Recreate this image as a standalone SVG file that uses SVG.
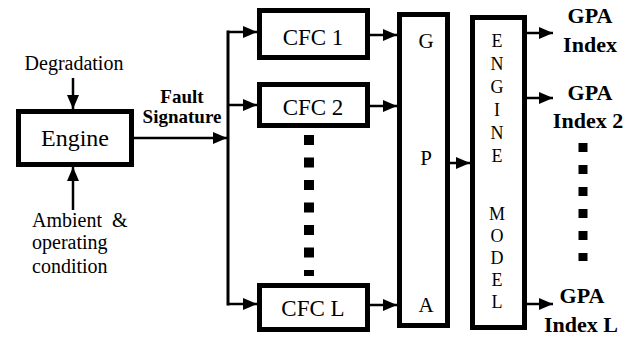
<svg xmlns="http://www.w3.org/2000/svg" width="636" height="339" viewBox="0 0 636 339">
<defs>
<marker id="ah" markerUnits="userSpaceOnUse" markerWidth="14" markerHeight="12" refX="14" refY="6" orient="auto">
<path d="M0,0 L14,6 L0,12 z" fill="#000"/>
</marker>
<style>
.box{fill:#fff;stroke:#000;stroke-width:5}
text{font-family:"Liberation Serif","Times New Roman",serif;fill:#000}
.b{font-weight:bold}
.c{stroke:#000;stroke-width:2.5;fill:none}
.a{marker-end:url(#ah)}
.dots{stroke:#000;fill:none}
</style>
</defs>
<rect width="636" height="339" fill="#fff"/>

<g id="connectors">
<line class="c a" x1="73" y1="78" x2="73" y2="109"/>
<line class="c a" x1="73" y1="210" x2="73" y2="167"/>
<line class="c a" x1="134" y1="138" x2="227" y2="138"/>
<line class="c" x1="228" y1="30.5" x2="228" y2="305.5" style="stroke-width:3"/>
<line class="c a" x1="228" y1="32" x2="257" y2="32"/>
<line class="c a" x1="228" y1="105" x2="257" y2="105"/>
<line class="c a" x1="228" y1="304" x2="257" y2="304"/>
<line class="c a" x1="370" y1="35" x2="397" y2="35"/>
<line class="c a" x1="370" y1="106" x2="397" y2="106"/>
<line class="c a" x1="370" y1="305" x2="397" y2="305"/>
<line class="c a" x1="450" y1="163" x2="470" y2="163"/>
<line class="c a" x1="527" y1="33" x2="553" y2="33"/>
<line class="c a" x1="527" y1="98" x2="553" y2="98"/>
<line class="c a" x1="527" y1="304" x2="553" y2="304"/>
</g>

<g id="degradation"><text x="74" y="70" font-size="20" text-anchor="middle">Degradation</text></g>
<g id="ambient">
<text x="32" y="227" font-size="20" word-spacing="5">Ambient &amp;</text>
<text x="32" y="249" font-size="20">operating</text>
<text x="32" y="273" font-size="20">condition</text>
</g>
<g id="fault-signature">
<text class="b" x="182" y="103" font-size="19" text-anchor="middle">Fault</text>
<text class="b" x="182" y="123" font-size="19" text-anchor="middle">Signature</text>
</g>

<g id="engine">
<rect class="box" x="18.5" y="111.5" width="113" height="53"/>
<text x="75" y="146" font-size="24" text-anchor="middle">Engine</text>
</g>

<g id="cfc1">
<rect class="box" x="259.5" y="10.5" width="108" height="47"/>
<text x="313" y="45" font-size="23" text-anchor="middle">CFC 1</text>
</g>
<g id="cfc2">
<rect class="box" x="259.5" y="84.5" width="108" height="41"/>
<text x="313" y="115" font-size="23" text-anchor="middle">CFC 2</text>
</g>
<g id="cfc-dots">
<line class="dots" x1="309" y1="135" x2="309" y2="276" stroke-width="10" stroke-dasharray="10 12.5"/>
</g>
<g id="cfcL">
<rect class="box" x="259.5" y="285.5" width="108" height="44"/>
<text x="313" y="316" font-size="23" text-anchor="middle">CFC L</text>
</g>

<g id="gpa">
<rect class="box" x="399.5" y="14.5" width="48" height="311"/>
<text x="426" y="48" font-size="21" text-anchor="middle">G</text>
<text x="426" y="165" font-size="21" text-anchor="middle">P</text>
<text x="426" y="312" font-size="21" text-anchor="middle">A</text>
</g>

<g id="engine-model">
<rect class="box" x="472.5" y="17.5" width="52" height="310"/>
<text x="497" y="47" font-size="18" text-anchor="middle">E</text>
<text x="497" y="70" font-size="18" text-anchor="middle">N</text>
<text x="497" y="93" font-size="18" text-anchor="middle">G</text>
<text x="497" y="116" font-size="18" text-anchor="middle">I</text>
<text x="497" y="139" font-size="18" text-anchor="middle">N</text>
<text x="497" y="162" font-size="18" text-anchor="middle">E</text>
<text x="497" y="220" font-size="18" text-anchor="middle">M</text>
<text x="497" y="242" font-size="18" text-anchor="middle">O</text>
<text x="497" y="264" font-size="18" text-anchor="middle">D</text>
<text x="497" y="286" font-size="18" text-anchor="middle">E</text>
<text x="497" y="308" font-size="18" text-anchor="middle">L</text>
</g>

<g id="gpa-index">
<text class="b" x="590" y="23" font-size="22" text-anchor="middle">GPA</text>
<text class="b" x="590" y="52" font-size="22" text-anchor="middle">Index</text>
</g>
<g id="gpa-index-2">
<text class="b" x="590" y="100" font-size="22" text-anchor="middle">GPA</text>
<text class="b" x="588" y="128" font-size="22" text-anchor="middle">Index 2</text>
</g>
<g id="index-dots">
<line class="dots" x1="583" y1="143" x2="583" y2="261" stroke-width="9" stroke-dasharray="9 13"/>
</g>
<g id="gpa-index-L">
<text class="b" x="582" y="303" font-size="22" text-anchor="middle">GPA</text>
<text class="b" x="581" y="332" font-size="22" text-anchor="middle">Index L</text>
</g>
</svg>
